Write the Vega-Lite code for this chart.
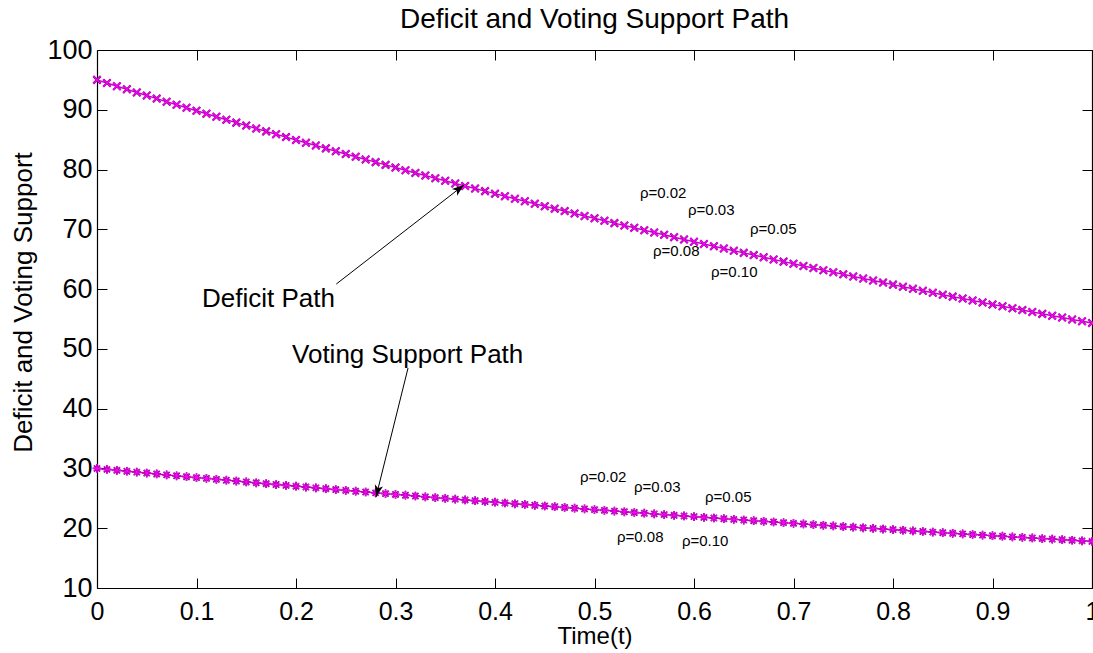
{
  "$schema": "https://vega.github.io/schema/vega-lite/v6.json",
  "autosize": "none",
  "width": 995,
  "height": 538,
  "padding": {"left": 97, "top": 50, "right": 1, "bottom": 65},
  "background": "white",
  "title": {"text": "Deficit and Voting Support Path", "fontSize": 28, "font": "Liberation Sans", "fontWeight": "normal", "color": "black", "offset": 2, "anchor": "middle"},
  "config": {
    "view": {"stroke": null},
    "axis": {"labelFont": "Liberation Sans", "titleFont": "Liberation Sans", "labelColor": "black", "titleColor": "black", "domainColor": "black", "tickColor": "black", "grid": false, "titleFontWeight": "normal", "domainWidth": 1.2, "tickWidth": 1, "tickSize": -10}
  },
  "datasets": {
    "path": [
      {"t":0.00,"d":95.00,"v":30.00},{"t":0.01,"d":94.47,"v":29.84},{"t":0.02,"d":93.94,"v":29.69},{"t":0.03,"d":93.42,"v":29.53},{"t":0.04,"d":92.90,"v":29.38},
      {"t":0.05,"d":92.38,"v":29.23},{"t":0.06,"d":91.87,"v":29.08},{"t":0.07,"d":91.35,"v":28.92},{"t":0.08,"d":90.84,"v":28.77},{"t":0.09,"d":90.34,"v":28.62},
      {"t":0.10,"d":89.83,"v":28.47},{"t":0.11,"d":89.33,"v":28.33},{"t":0.12,"d":88.84,"v":28.18},{"t":0.13,"d":88.34,"v":28.03},{"t":0.14,"d":87.85,"v":27.89},
      {"t":0.15,"d":87.36,"v":27.74},{"t":0.16,"d":86.87,"v":27.60},{"t":0.17,"d":86.39,"v":27.45},{"t":0.18,"d":85.91,"v":27.31},{"t":0.19,"d":85.43,"v":27.17},
      {"t":0.20,"d":84.95,"v":27.03},{"t":0.21,"d":84.48,"v":26.89},{"t":0.22,"d":84.01,"v":26.75},{"t":0.23,"d":83.54,"v":26.61},{"t":0.24,"d":83.07,"v":26.47},
      {"t":0.25,"d":82.61,"v":26.33},{"t":0.26,"d":82.15,"v":26.19},{"t":0.27,"d":81.69,"v":26.06},{"t":0.28,"d":81.24,"v":25.92},{"t":0.29,"d":80.78,"v":25.79},
      {"t":0.30,"d":80.33,"v":25.65},{"t":0.31,"d":79.89,"v":25.52},{"t":0.32,"d":79.44,"v":25.39},{"t":0.33,"d":79.00,"v":25.25},{"t":0.34,"d":78.56,"v":25.12},
      {"t":0.35,"d":78.12,"v":24.99},{"t":0.36,"d":77.68,"v":24.86},{"t":0.37,"d":77.25,"v":24.73},{"t":0.38,"d":76.82,"v":24.60},{"t":0.39,"d":76.39,"v":24.47},
      {"t":0.40,"d":75.97,"v":24.35},{"t":0.41,"d":75.54,"v":24.22},{"t":0.42,"d":75.12,"v":24.09},{"t":0.43,"d":74.70,"v":23.97},{"t":0.44,"d":74.29,"v":23.84},
      {"t":0.45,"d":73.87,"v":23.72},{"t":0.46,"d":73.46,"v":23.60},{"t":0.47,"d":73.05,"v":23.47},{"t":0.48,"d":72.64,"v":23.35},{"t":0.49,"d":72.24,"v":23.23},
      {"t":0.50,"d":71.84,"v":23.11},{"t":0.51,"d":71.44,"v":22.99},{"t":0.52,"d":71.04,"v":22.87},{"t":0.53,"d":70.64,"v":22.75},{"t":0.54,"d":70.25,"v":22.63},
      {"t":0.55,"d":69.86,"v":22.51},{"t":0.56,"d":69.47,"v":22.40},{"t":0.57,"d":69.08,"v":22.28},{"t":0.58,"d":68.69,"v":22.16},{"t":0.59,"d":68.31,"v":22.05},
      {"t":0.60,"d":67.93,"v":21.93},{"t":0.61,"d":67.55,"v":21.82},{"t":0.62,"d":67.18,"v":21.71},{"t":0.63,"d":66.80,"v":21.59},{"t":0.64,"d":66.43,"v":21.48},
      {"t":0.65,"d":66.06,"v":21.37},{"t":0.66,"d":65.69,"v":21.26},{"t":0.67,"d":65.32,"v":21.15},{"t":0.68,"d":64.96,"v":21.04},{"t":0.69,"d":64.60,"v":20.93},
      {"t":0.70,"d":64.24,"v":20.82},{"t":0.71,"d":63.88,"v":20.71},{"t":0.72,"d":63.52,"v":20.60},{"t":0.73,"d":63.17,"v":20.49},{"t":0.74,"d":62.82,"v":20.39},
      {"t":0.75,"d":62.47,"v":20.28},{"t":0.76,"d":62.12,"v":20.18},{"t":0.77,"d":61.77,"v":20.07},{"t":0.78,"d":61.43,"v":19.97},{"t":0.79,"d":61.09,"v":19.86},
      {"t":0.80,"d":60.75,"v":19.76},{"t":0.81,"d":60.41,"v":19.66},{"t":0.82,"d":60.07,"v":19.55},{"t":0.83,"d":59.74,"v":19.45},{"t":0.84,"d":59.40,"v":19.35},
      {"t":0.85,"d":59.07,"v":19.25},{"t":0.86,"d":58.74,"v":19.15},{"t":0.87,"d":58.42,"v":19.05},{"t":0.88,"d":58.09,"v":18.95},{"t":0.89,"d":57.77,"v":18.85},
      {"t":0.90,"d":57.44,"v":18.75},{"t":0.91,"d":57.12,"v":18.66},{"t":0.92,"d":56.81,"v":18.56},{"t":0.93,"d":56.49,"v":18.46},{"t":0.94,"d":56.17,"v":18.37},
      {"t":0.95,"d":55.86,"v":18.27},{"t":0.96,"d":55.55,"v":18.18},{"t":0.97,"d":55.24,"v":18.08},{"t":0.98,"d":54.93,"v":17.99},{"t":0.99,"d":54.63,"v":17.89},
      {"t":1.00,"d":54.32,"v":17.80}
    ],
    "rho": [
      {"x":0.5457,"y":76.08,"label":"ρ=0.02"},{"x":0.5940,"y":73.23,"label":"ρ=0.03"},{"x":0.6563,"y":70.05,"label":"ρ=0.05"},
      {"x":0.5588,"y":66.37,"label":"ρ=0.08"},{"x":0.6171,"y":62.86,"label":"ρ=0.10"},
      {"x":0.4854,"y":28.57,"label":"ρ=0.02"},{"x":0.5397,"y":26.89,"label":"ρ=0.03"},{"x":0.6111,"y":25.22,"label":"ρ=0.05"},
      {"x":0.5226,"y":18.53,"label":"ρ=0.08"},{"x":0.5879,"y":17.86,"label":"ρ=0.10"}
    ],
    "notes": [
      {"x":0.1055,"y":58.34,"label":"Deficit Path"},
      {"x":0.1960,"y":48.98,"label":"Voting Support Path"}
    ],
    "arrows": [
      {"id":"deficit","x":0.2405,"y":60.85,"x2":0.3688,"y2":77.42},
      {"id":"voting","x":0.3126,"y":46.80,"x2":0.2804,"y2":25.22}
    ]
  },
  "data": {"name": "path"},
  "resolve": {"axis": {"x": "independent", "y": "independent"}},
  "layer": [
    {
      "mark": {"type": "line", "color": "#cc00cc", "strokeWidth": 1.5},
      "encoding": {
        "x": {"field": "t", "type": "quantitative", "scale": {"domain": [0, 1], "nice": false, "zero": false},
              "axis": {"orient": "bottom", "values": [0,0.1,0.2,0.3,0.4,0.5,0.6,0.7,0.8,0.9,1], "format": "~g", "labelFontSize": 25, "labelPadding": 21, "title": "Time(t)", "titleFontSize": 24, "titlePadding": 0, "labelFlush": false}},
        "y": {"field": "d", "type": "quantitative", "scale": {"domain": [10, 100], "nice": false, "zero": false},
              "axis": {"orient": "left", "values": [10,20,30,40,50,60,70,80,90,100], "labelFontSize": 27, "labelPadding": 15, "title": "Deficit and Voting Support", "titleFontSize": 26, "titlePadding": 10, "titleY": 252, "labelFlush": false}}
      }
    },
    {
      "mark": {"type": "line", "color": "#cc00cc", "strokeWidth": 1.5},
      "encoding": {
        "x": {"field": "t", "type": "quantitative", "axis": {"orient": "top", "values": [0,0.1,0.2,0.3,0.4,0.5,0.6,0.7,0.8,0.9,1], "labels": false, "title": null}},
        "y": {"field": "v", "type": "quantitative", "axis": {"orient": "right", "values": [10,20,30,40,50,60,70,80,90,100], "labels": false, "title": null}}
      }
    },
    {
      "mark": {"type": "point", "shape": "M-1,-1L1,1M-1,1L1,-1", "size": 56, "filled": false, "stroke": "#8a008a", "strokeWidth": 2.2, "opacity": 1},
      "encoding": {"x": {"field": "t", "type": "quantitative", "axis": null}, "y": {"field": "d", "type": "quantitative", "axis": null}}
    },
    {
      "mark": {"type": "point", "shape": "M-1,-1L1,1M-1,1L1,-1", "size": 56, "filled": false, "stroke": "#ff00ff", "strokeWidth": 1.2, "opacity": 1},
      "encoding": {"x": {"field": "t", "type": "quantitative", "axis": null}, "y": {"field": "d", "type": "quantitative", "axis": null}}
    },
    {
      "mark": {"type": "point", "shape": "M0,-1L0,1M-1,0L1,0M-0.7,-0.7L0.7,0.7M-0.7,0.7L0.7,-0.7", "size": 76, "filled": false, "stroke": "#8a008a", "strokeWidth": 1.8, "opacity": 1},
      "encoding": {"x": {"field": "t", "type": "quantitative", "axis": null}, "y": {"field": "v", "type": "quantitative", "axis": null}}
    },
    {
      "mark": {"type": "point", "shape": "M0,-1L0,1M-1,0L1,0M-0.7,-0.7L0.7,0.7M-0.7,0.7L0.7,-0.7", "size": 76, "filled": false, "stroke": "#ff00ff", "strokeWidth": 1.0, "opacity": 1},
      "encoding": {"x": {"field": "t", "type": "quantitative", "axis": null}, "y": {"field": "v", "type": "quantitative", "axis": null}}
    },
    {
      "data": {"name": "rho"},
      "mark": {"type": "text", "align": "left", "baseline": "middle", "fontSize": 15, "font": "Liberation Sans", "color": "black"},
      "encoding": {"x": {"field": "x", "type": "quantitative", "axis": null}, "y": {"field": "y", "type": "quantitative", "axis": null}, "text": {"field": "label"}}
    },
    {
      "data": {"name": "notes"},
      "mark": {"type": "text", "align": "left", "baseline": "middle", "fontSize": 26, "font": "Liberation Sans", "color": "black"},
      "encoding": {"x": {"field": "x", "type": "quantitative", "axis": null}, "y": {"field": "y", "type": "quantitative", "axis": null}, "text": {"field": "label"}}
    },
    {
      "data": {"name": "arrows"},
      "mark": {"type": "rule", "color": "black", "strokeWidth": 1},
      "encoding": {"x": {"field": "x", "type": "quantitative", "axis": null}, "y": {"field": "y", "type": "quantitative", "axis": null}, "x2": {"field": "x2"}, "y2": {"field": "y2"}}
    },
    {
      "data": {"name": "arrows"},
      "transform": [{"filter": "datum.id === 'deficit'"}],
      "mark": {"type": "point", "shape": "M0,0L0.7,2L0,1.5L-0.7,2Z", "size": 144, "filled": true, "color": "black", "opacity": 1, "angle": 52},
      "encoding": {"x": {"field": "x2", "type": "quantitative", "axis": null}, "y": {"field": "y2", "type": "quantitative", "axis": null}}
    },
    {
      "data": {"name": "arrows"},
      "transform": [{"filter": "datum.id === 'voting'"}],
      "mark": {"type": "point", "shape": "M0,0L0.7,2L0,1.5L-0.7,2Z", "size": 144, "filled": true, "color": "black", "opacity": 1, "angle": 194},
      "encoding": {"x": {"field": "x2", "type": "quantitative", "axis": null}, "y": {"field": "y2", "type": "quantitative", "axis": null}}
    }
  ]
}
